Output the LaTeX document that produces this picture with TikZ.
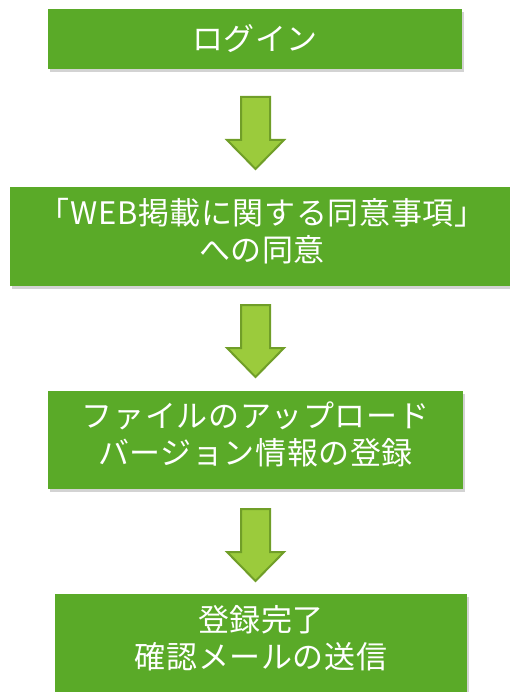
\documentclass[tikz,border=0pt]{standalone}
\usepackage{fontspec}
\setmainfont{Noto Sans CJK JP}[LetterSpace=2]
\usetikzlibrary{positioning,shadows}
\definecolor{boxgreen}{RGB}{90,170,40}
\definecolor{arrowfill}{RGB}{155,203,60}
\definecolor{arrowline}{RGB}{112,158,40}

\tikzset{
  stepbox/.style={rectangle, fill=boxgreen, text=white, align=center,
    inner sep=0pt, font=\fontsize{31}{37}\selectfont,
    drop shadow={shadow xshift=2pt, shadow yshift=-3pt, opacity=0.35}},
  twoline/.style={text depth=14pt},
  flowarrow/.style={fill=arrowfill, draw=arrowline, line width=2pt, line join=miter}
}

% block arrow pointing down, top edge at y=#1
\newcommand{\flowarr}[1]{%
  \draw[flowarrow] (241,#1) -- (270,#1) -- (270,{#1+43}) -- (284,{#1+43})
    -- (255.5,{#1+72}) -- (227,{#1+43}) -- (241,{#1+43}) -- cycle;}

\begin{document}
\begin{tikzpicture}[x=1pt,y=-1pt]
\useasboundingbox (0,0) rectangle (509,692);

\node[stepbox, minimum width=414pt, minimum height=60pt] (login) at (255,39) {ログイン};
\node[stepbox, twoline, minimum width=504pt, minimum height=99pt] (agree) at (262,236.5)
  {「WEB掲載に関する同意事項」\\への同意};
\node[stepbox, twoline, minimum width=415pt, minimum height=98pt] (upload) at (255.5,440)
  {ファイルのアップロード\\バージョン情報の登録};
\node[stepbox, twoline, minimum width=412pt, minimum height=100pt] (done) at (261,644)
  {登録完了\\確認メールの送信};

\flowarr{97}
\flowarr{305}
\flowarr{509}
\end{tikzpicture}
\end{document}
